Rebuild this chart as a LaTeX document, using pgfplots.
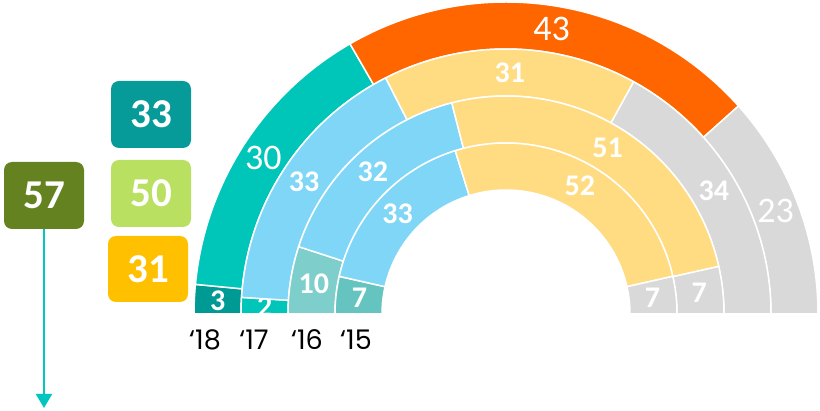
\documentclass[border=0pt]{standalone}
\usepackage{pgfplots}
\usepackage{pgfplotstable}
\pgfplotsset{compat=1.18}
\usetikzlibrary{arrows.meta}
\usepackage{fontspec}
\setmainfont{Carlito}
\newfontfamily\yearfont{Poppins}

\definecolor{tealD}{HTML}{009A95}
\definecolor{tealB}{HTML}{00C5B9}
\definecolor{tealL}{HTML}{7ECECC}
\definecolor{tealM}{HTML}{66C4C0}
\definecolor{orng}{HTML}{FF6600}
\definecolor{blu}{HTML}{80D6F6}
\definecolor{yel}{HTML}{FFDC82}
\definecolor{gry}{HTML}{D9D9D9}
\definecolor{boxA}{HTML}{069B99}
\definecolor{boxB}{HTML}{B9E061}
\definecolor{boxC}{HTML}{FFC000}
\definecolor{boxD}{HTML}{64821F}
\definecolor{arr}{HTML}{00C6C0}

\newcommand\labB{\bfseries\fontsize{30}{30}\selectfont}
\newcommand\labR{\fontsize{36}{36}\selectfont}

% ring 1 = 2018 (outer) ... ring 4 = 2015 (inner)
\pgfplotstableread{
ring val col fs
1 3 tealD B
1 30 tealB R
1 43 orng R
1 23 gry R
2 2 tealB B
2 33 blu B
2 31 yel B
2 34 gry B
3 10 tealL B
3 32 blu B
3 51 yel B
3 7 gry B
4 7 tealM B
4 33 blu B
4 52 yel B
4 7 gry B
}\segs

\def\cx{506}
\def\cy{96}

\begin{document}
\begin{tikzpicture}
\begin{axis}[width=820pt,height=410pt,scale only axis,
  xmin=0,xmax=820,ymin=0,ymax=410,enlargelimits=false,
  hide axis,clip=false]
\draw[draw=none] (axis cs:0,0) rectangle (axis cs:820,410);
\pgfplotstablegetrowsof{\segs}
\pgfmathtruncatemacro\nlast{\pgfplotsretval-1}
\pgfplotsforeachungrouped \r in {1,...,4}{%
  \expandafter\xdef\csname tot\r\endcsname{0}%
  \expandafter\xdef\csname cum\r\endcsname{0}%
}
\pgfplotsforeachungrouped \i in {0,...,\nlast}{%
  \pgfplotstablegetelem{\i}{ring}\of\segs\edef\rg{\pgfplotsretval}%
  \pgfplotstablegetelem{\i}{val}\of\segs\edef\vv{\pgfplotsretval}%
  \pgfmathsetmacro\ttot{\csname tot\rg\endcsname+\vv}%
  \expandafter\xdef\csname tot\rg\endcsname{\ttot}%
}
\pgfplotsforeachungrouped \i in {0,...,\nlast}{%
  \pgfplotstablegetelem{\i}{ring}\of\segs\edef\rg{\pgfplotsretval}%
  \pgfplotstablegetelem{\i}{val}\of\segs\edef\vv{\pgfplotsretval}%
  \pgfplotstablegetelem{\i}{col}\of\segs\edef\cl{\pgfplotsretval}%
  \pgfplotstablegetelem{\i}{fs}\of\segs\edef\fs{\pgfplotsretval}%
  \edef\cz{\csname cum\rg\endcsname}%
  \edef\ttot{\csname tot\rg\endcsname}%
  \pgfmathsetmacro\aA{180-180*(\cz/\ttot)}%
  \pgfmathsetmacro\aB{180-180*((\cz+\vv)/\ttot)}%
  \pgfmathsetmacro\rin{124+47*(4-\rg)}%
  \pgfmathsetmacro\rout{\rin+47}%
  \pgfmathsetmacro\xA{\cx+\rout*cos(\aA)}%
  \pgfmathsetmacro\yA{\cy+\rout*sin(\aA)}%
  \pgfmathsetmacro\xB{\cx+\rin*cos(\aB)}%
  \pgfmathsetmacro\yB{\cy+\rin*sin(\aB)}%
  \pgfmathsetmacro\am{(\aA+\aB)/2}%
  \pgfmathsetmacro\rmid{(\rin+\rout)/2}%
  \pgfmathsetmacro\xm{\cx+\rmid*cos(\am)}%
  \pgfmathsetmacro\ym{\cy+\rmid*sin(\am)}%
  \edef\cmd{\noexpand\filldraw[overlay,fill=\cl,draw=white,line width=1.5pt,line join=round]
    (axis cs:\xA,\yA) arc[start angle=\aA,end angle=\aB,radius=\rout pt]
    -- (axis cs:\xB,\yB) arc[start angle=\aB,end angle=\aA,radius=\rin pt] -- cycle;}%
  \cmd
  \edef\cmd{\noexpand\node[overlay,text=white,inner sep=0pt,font=\expandafter\noexpand\csname lab\fs\endcsname] at (axis cs:\xm,\ym) {\vv};}%
  \cmd
  \pgfmathsetmacro\nc{\cz+\vv}%
  \expandafter\xdef\csname cum\rg\endcsname{\nc}%
}
% clip away the parts of labels below the baseline
\fill[overlay,white] (axis cs:180,0) rectangle (axis cs:820,95.2);
% year labels
\node[font=\yearfont\fontsize{27}{27}\selectfont,inner sep=0pt] at (axis cs:205,70) {‘18};
\node[font=\yearfont\fontsize{27}{27}\selectfont,inner sep=0pt] at (axis cs:254,70) {‘17};
\node[font=\yearfont\fontsize{27}{27}\selectfont,inner sep=0pt] at (axis cs:307,70) {‘16};
\node[font=\yearfont\fontsize{27}{27}\selectfont,inner sep=0pt] at (axis cs:356,70) {‘15};
% summary boxes
\node[fill=boxA,rounded corners=8pt,minimum width=80pt,minimum height=67pt,inner sep=0pt,text=white,font=\bfseries\fontsize{41}{41}\selectfont] at (axis cs:151,295.5) {33};
\node[fill=boxB,rounded corners=8pt,minimum width=80pt,minimum height=67pt,inner sep=0pt,text=white,font=\bfseries\fontsize{41}{41}\selectfont] at (axis cs:151,216.5) {50};
\node[fill=boxC,rounded corners=8pt,minimum width=80pt,minimum height=66pt,inner sep=0pt,text=white,font=\bfseries\fontsize{41}{41}\selectfont] at (axis cs:148,141) {31};
\node[fill=boxD,rounded corners=8pt,minimum width=80pt,minimum height=67pt,inner sep=0pt,text=white,font=\bfseries\fontsize{41}{41}\selectfont] at (axis cs:44,214.5) {57};
\draw[overlay,arr,line width=2pt,-{Triangle[width=16pt,length=14pt]}] (axis cs:44,181) -- (axis cs:44,2);
\end{axis}
\end{tikzpicture}
\end{document}
